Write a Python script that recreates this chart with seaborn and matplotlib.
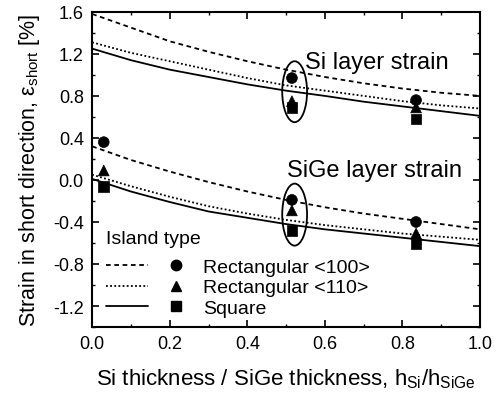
import numpy as np
import pandas as pd
import matplotlib
matplotlib.use("Agg")
import matplotlib.pyplot as plt
from matplotlib.patches import Ellipse
from matplotlib.lines import Line2D
from matplotlib.legend_handler import HandlerTuple
from matplotlib.ticker import MultipleLocator
import seaborn as sns

# ---------------- data ----------------
island_types = ["Rectangular <100>", "Rectangular <110>", "Square"]
h_ratio = [0.0, 0.1, 0.2, 0.3, 0.4, 0.5, 0.6, 0.7, 0.8, 0.9, 1.0]

# model curves, Si layer
si_rect100 = [1.58, 1.45, 1.32, 1.22, 1.13, 1.05, 0.98, 0.92, 0.87, 0.83, 0.80]
si_rect110 = [1.31, 1.21, 1.13, 1.05, 0.97, 0.90, 0.85, 0.80, 0.75, 0.71, 0.68]
si_square  = [1.25, 1.14, 1.05, 0.98, 0.91, 0.85, 0.80, 0.745, 0.70, 0.655, 0.61]
# model curves, SiGe layer
sige_rect100 = [0.32, 0.19, 0.08, -0.02, -0.11, -0.19, -0.26, -0.32, -0.37, -0.42, -0.47]
sige_rect110 = [0.05, -0.06, -0.16, -0.25, -0.32, -0.38, -0.43, -0.47, -0.51, -0.54, -0.57]
sige_square  = [0.01, -0.11, -0.21, -0.30, -0.36, -0.42, -0.47, -0.51, -0.55, -0.59, -0.63]

# measured points
si_x = [0.515, 0.835]
si_pts_rect100 = [0.97, 0.76]
si_pts_rect110 = [0.75, 0.69]
si_pts_square  = [0.69, 0.58]
sige_x = [0.03, 0.515, 0.835]
sige_pts_rect100 = [0.36, -0.19, -0.40]
sige_pts_rect110 = [0.09, -0.29, -0.51]
sige_pts_square  = [-0.06, -0.48, -0.61]

# highlighted groups (ellipses): centre x, centre y, width, height
ellipse_cx = [0.522, 0.522]
ellipse_cy = [0.84, -0.33]
ellipse_w = [0.064, 0.064]
ellipse_h = [0.58, 0.59]

# ---------------- tables ----------------
rows = []
for layer, curves in (("Si", [si_rect100, si_rect110, si_square]),
                      ("SiGe", [sige_rect100, sige_rect110, sige_square])):
    for isl, vals in zip(island_types, curves):
        for xv, yv in zip(h_ratio, vals):
            rows.append(dict(layer=layer, island=isl, h=xv, strain=yv,
                             series=layer + isl))
curves_df = pd.DataFrame(rows)

prow = []
for layer, xs, pts in (("Si", si_x, [si_pts_rect100, si_pts_rect110, si_pts_square]),
                       ("SiGe", sige_x, [sige_pts_rect100, sige_pts_rect110, sige_pts_square])):
    for isl, vals in zip(island_types, pts):
        for xv, yv in zip(xs, vals):
            prow.append(dict(layer=layer, island=isl, h=xv, strain=yv))
points_df = pd.DataFrame(prow)

# ---------------- style ----------------
sns.set_theme(style="ticks")
plt.rcParams["font.family"] = ["Liberation Sans", "DejaVu Sans"]
plt.rcParams["mathtext.fontset"] = "custom"
plt.rcParams["mathtext.rm"] = "Liberation Sans"
plt.rcParams["mathtext.it"] = "Liberation Sans:italic"
plt.rcParams["mathtext.bf"] = "Liberation Sans:bold"
for k in ("text.color", "axes.labelcolor", "xtick.color", "ytick.color", "axes.edgecolor"):
    plt.rcParams[k] = "black"

dash_map = {"Rectangular <100>": (2.6, 2.0), "Rectangular <110>": (1, 1.3), "Square": ""}
marker_map = {"Rectangular <100>": "o", "Rectangular <110>": "^", "Square": "s"}

fig = plt.figure(figsize=(4.98, 4.02), dpi=100)
ax = fig.add_axes([0.185, 0.184, 0.779, 0.784])

sns.lineplot(data=curves_df, x="h", y="strain", style="island", units="series",
             estimator=None, dashes=dash_map, color="black", linewidth=1.3,
             legend=False, ax=ax, sort=False)
sns.scatterplot(data=points_df, x="h", y="strain", style="island",
                markers=marker_map, color="black", s=60, edgecolor="black",
                linewidth=0.5, legend=False, ax=ax, zorder=5)

for cx, cy, w, h in zip(ellipse_cx, ellipse_cy, ellipse_w, ellipse_h):
    ax.add_patch(Ellipse((cx, cy), w, h, fill=False, edgecolor="black", linewidth=1.3))

ax.text(0.549, 1.12, "Si layer strain", fontsize=17, va="center", ha="left")
ax.text(0.503, 0.09, "SiGe layer strain", fontsize=17, va="center", ha="left")

ax.set_xlim(0.0, 1.0)
ax.set_ylim(-1.4, 1.6)
ax.xaxis.set_minor_locator(MultipleLocator(0.1))
ax.yaxis.set_minor_locator(MultipleLocator(0.2))
ax.set_yticks([-1.2, -0.8, -0.4, 0.0, 0.4, 0.8, 1.2, 1.6])
ax.set_yticklabels(["-1.2", "-0.8", "-0.4", "0.0", "0.4", "0.8", "1.2", "1.6"])
ax.set_xticks([0.0, 0.2, 0.4, 0.6, 0.8, 1.0])
ax.set_xticklabels(["0.0", "0.2", "0.4", "0.6", "0.8", "1.0"])
ax.tick_params(which="both", direction="in", top=True, right=True, colors="black",
               labelsize=13, pad=6)
ax.tick_params(which="major", length=5, width=1.2)
ax.tick_params(which="minor", length=2.5, width=1.0)
for sp in ax.spines.values():
    sp.set_linewidth(1.5)
    sp.set_color("black")
    sp.set_visible(True)

ax.set_xlabel(r"Si thickness / SiGe thickness, h$_{\rm Si}$/h$_{\rm SiGe}$",
              fontsize=16, labelpad=10)
ax.set_ylabel(r"Strain in short direction, ε$_{\rm short}$ [%]", fontsize=15.5, labelpad=8)

handles = []
for t in island_types:
    ln = Line2D([], [], color="black", lw=1.3, linestyle="--" if dash_map[t] else "-")
    if dash_map[t]:
        ln.set_dashes(dash_map[t])
    mk = Line2D([], [], color="black", marker=marker_map[t], linestyle="none", markersize=7.5)
    handles.append((ln, mk))
leg = ax.legend(handles, island_types, handler_map={tuple: HandlerTuple(ndivide=None, pad=0.36)},
                title="Island type", loc="upper left", bbox_to_anchor=(0.0, 0.352),
                frameon=False, fontsize=14, title_fontsize=14, handlelength=4.7,
                handletextpad=0.3, labelspacing=0.15, alignment="left", borderaxespad=0.3)
try:
    leg._legend_box.sep = 8.3
except Exception:
    pass

fig.savefig("out.png", dpi=100, facecolor="white")
